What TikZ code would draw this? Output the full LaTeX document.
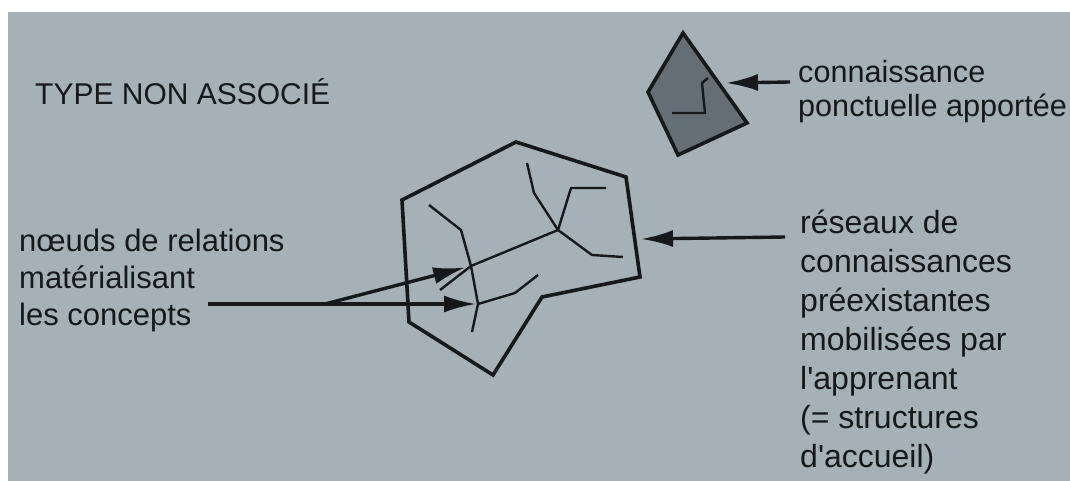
\documentclass[tikz,border=0pt]{standalone}
\usepackage{fontspec}
\setmainfont{Liberation Sans}
\usetikzlibrary{arrows.meta}
\definecolor{bg}{HTML}{A5B0B7}
\definecolor{ink}{HTML}{15191C}
\definecolor{shadefill}{HTML}{656E74}
\begin{document}
\begin{tikzpicture}[x=1pt,y=-1pt,
  outline/.style={draw=ink,line width=3.6pt,line join=miter},
  branch/.style={draw=ink,line width=2.4pt,line join=round},
  pointer/.style={draw=ink,line width=3.4pt,-{Latex[length=32pt,width=17pt]}},
  lbl/.style={text=ink,inner sep=0pt,align=left,anchor=base west}]
\useasboundingbox (0,0) rectangle (1070,481);
\fill[white] (0,0) rectangle (1070,481);
\fill[bg] (8,12) rectangle (1070,481);

% main network polygon
\draw[outline] (516,142) -- (626,177) -- (640,277) -- (542,297) -- (493,375) -- (409,322) -- (402,200) -- cycle;
\coordinate (n1) at (471,266);
\coordinate (n2) at (478,304);
\coordinate (n3) at (558,230);
\coordinate (polyright) at (641,239);
% tree branches
\draw[branch] (429,205) -- (461,230) -- (n1) -- (n2) -- (472,332);
\draw[branch] (n2) -- (515,293) -- (538,275);
\draw[branch] (440,290) -- (n1) -- (n3);
\draw[branch] (n3) -- (534,193) -- (527,163);
\draw[branch] (n3) -- (571,188) -- (606,188);
\draw[branch] (n3) -- (592,255) -- (623,257);

% small contributed knowledge polygon
\draw[outline,fill=shadefill] (683,33) -- (747,123) -- (678,155) -- (648,92) -- cycle;
\draw[branch] (672,113) -- (705,113) -- (702,83) -- (708,78);
\coordinate (smallright) at (726,83);

% labels (base anchor = baseline of last line)
\node[lbl,font=\fontsize{30}{36}\selectfont] (title) at (35,105) {TYPE NON ASSOCIÉ};
\node[lbl,font=\fontsize{30.6}{34}\selectfont] (apport) at (798,117) {connaissance\\ponctuelle apportée};
\node[lbl,font=\fontsize{32}{39}\selectfont] (reseaux) at (800,467) {réseaux de\\connaissances\\préexistantes\\mobilisées par\\l\textquotesingle apprenant\\(= structures\\d\textquotesingle accueil)};
\node[lbl,font=\fontsize{31}{37}\selectfont] (noeuds) at (19,325) {nœuds de relations\\matérialisant\\les concepts};

% connectors
\coordinate (leftstart) at (208,304);
\coordinate (split) at (325,304);
\coordinate (apportstart) at (790,82);
\coordinate (reseauxstart) at (785,237);
\draw[pointer,shorten >=2pt] (leftstart) -- (n2);
\draw[pointer,shorten >=6pt] (split) -- (n1);
\draw[pointer] (apportstart) -- (smallright);
\draw[pointer] (reseauxstart) -- (polyright);
\end{tikzpicture}
\end{document}
